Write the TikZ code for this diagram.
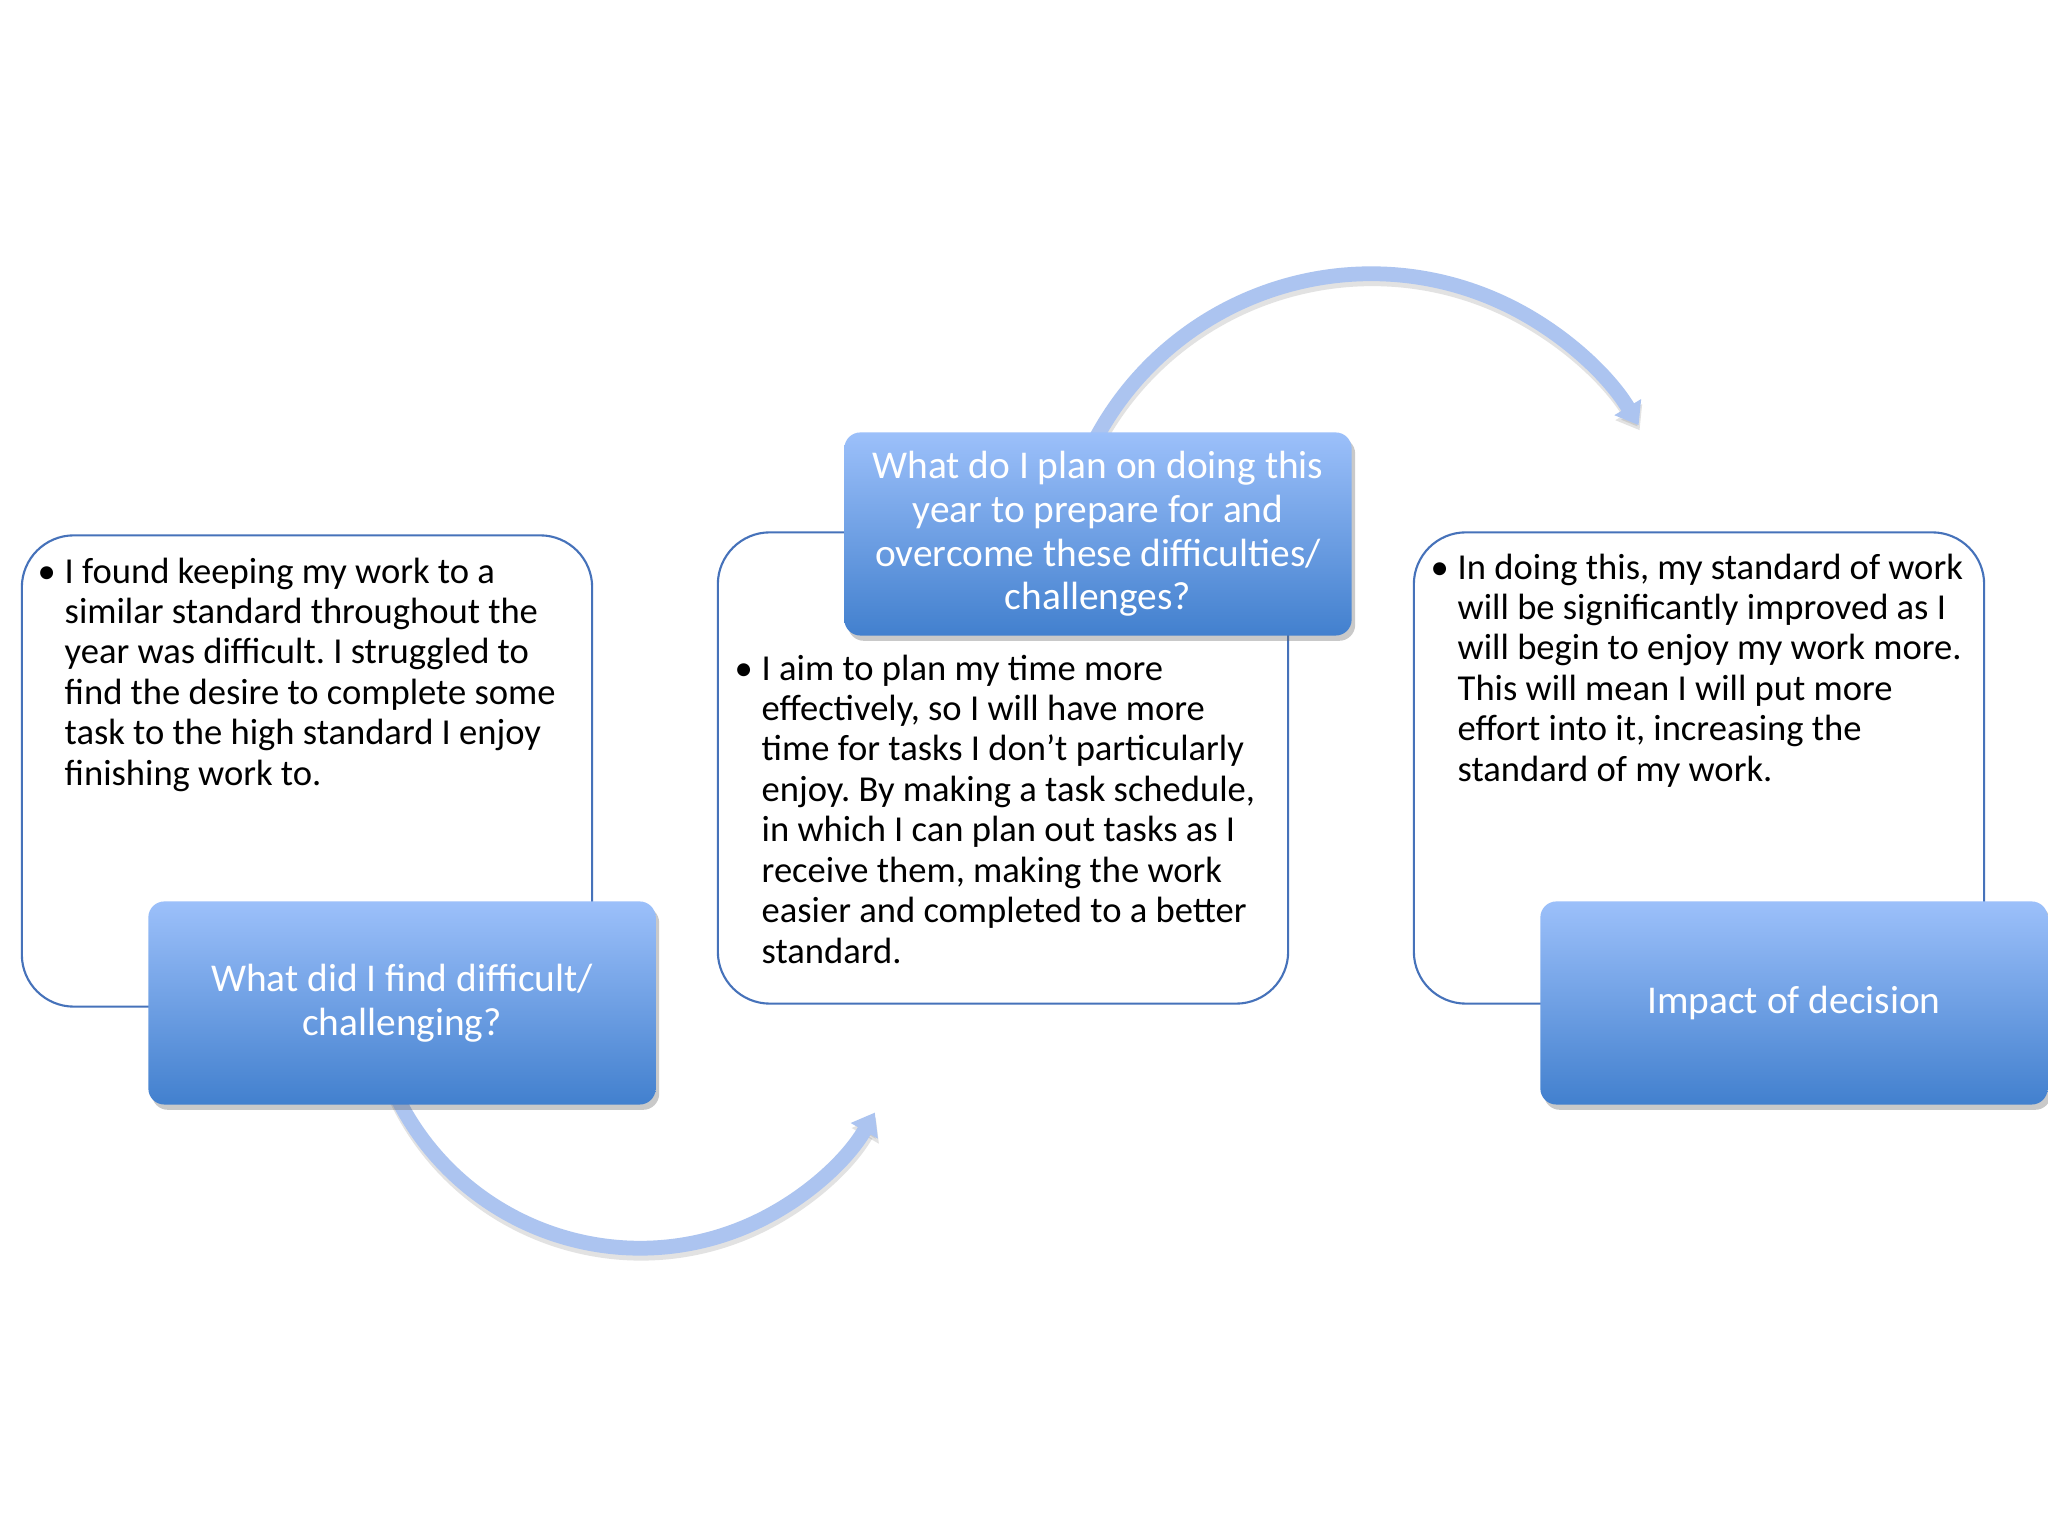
\documentclass[tikz,border=0pt]{standalone}
\usepackage{fontspec}
\setmainfont{Carlito}
\usepackage{tikz}
\usepackage{xcolor}
\usetikzlibrary{arrows.meta,calc,shadows}

\definecolor{boxblue}{RGB}{70,114,186}
\definecolor{titletop}{RGB}{156,192,250}
\definecolor{titlebot}{RGB}{66,128,206}
\definecolor{arrowblue}{RGB}{172,196,240}

\begin{document}
\frenchspacing
\begin{tikzpicture}[x=0.01cm, y=0.01cm, >=Stealth,
  textbox/.style={draw=boxblue, line width=0.6pt, fill=white, rounded corners=0.52cm,
    minimum width=5.7cm, minimum height=4.71cm},
  titlebox/.style={rounded corners=0.16cm, top color=titletop, bottom color=titlebot,
    minimum width=5.07cm, minimum height=2.03cm, text=white, align=center,
    font=\fontsize{11.2pt}{12.4pt}\selectfont,
    drop shadow={shadow xshift=1pt, shadow yshift=-1.5pt, opacity=0.35, fill=black!60}},
  bodytext/.style={anchor=north west, inner sep=0pt, align=left,
    font=\fontsize{10.4pt}{11.5pt}\selectfont},
  curvearrow/.style={line width=4.2pt, draw=arrowblue, -{Triangle[width=8.5pt,length=6pt]}},
  curveshade/.style={line width=4.2pt, draw=black!45, opacity=0.25,
    -{Triangle[width=8.5pt,length=6pt]}}]
\fill[white] (0,0) rectangle (2048,1536);
\useasboundingbox (0,0) rectangle (2048,1536);

% Curved arrows
\coordinate (topc) at (1371,950);
\coordinate (lowc) at (640,559);
\draw[curveshade] ($(topc)+(1,-5)+(152:3.12cm)$) arc[start angle=152, end angle=31, radius=3.12cm];
\draw[curvearrow] ($(topc)+(152:3.12cm)$) arc[start angle=152, end angle=31, radius=3.12cm];
\draw[curveshade] ($(lowc)+(1,-5)+(205:2.71cm)$) arc[start angle=205, end angle=330, radius=2.71cm];
\draw[curvearrow] ($(lowc)+(205:2.71cm)$) arc[start angle=205, end angle=330, radius=2.71cm];

% Text boxes
\node[textbox] (difftext) at (307,765) {};
\node[textbox] (plantext) at (1003,768) {};
\node[textbox] (imptext) at (1699,768) {};

% Titles
\node[titlebox] (difftitle) at (402,533) {What did I find difficult/\\challenging?};
\node[titlebox] (plantitle) at (1098,1002) {What do I plan on doing this\\year to prepare for and\\overcome these difficulties/\\challenges?};
\node[titlebox] (imptitle) at (1794,533) {Impact of decision};

% Bullets
\node[bodytext] (diffbody) at (64,979) {\makebox[0pt][r]{\textbullet\hspace{2.5pt}}I found keeping my work to a\\
  similar standard throughout the\\year was difficult. I struggled to\\find the desire to complete some\\
  task to the high standard I enjoy\\finishing work to.};
\node[bodytext] (planbody) at (761,882) {\makebox[0pt][r]{\textbullet\hspace{2.5pt}}I aim to plan my time more\\
  effectively, so I will have more\\time for tasks I don’t particularly\\enjoy. By making a task schedule,\\
  in which I can plan out tasks as I\\receive them, making the work\\easier and completed to a better\\standard.};
\node[bodytext] (impbody) at (1457,983) {\makebox[0pt][r]{\textbullet\hspace{2.5pt}}In doing this, my standard of work\\
  will be significantly improved as I\\will begin to enjoy my work more.\\This will mean I will put more\\
  effort into it, increasing the\\standard of my work.};
\end{tikzpicture}
\end{document}
